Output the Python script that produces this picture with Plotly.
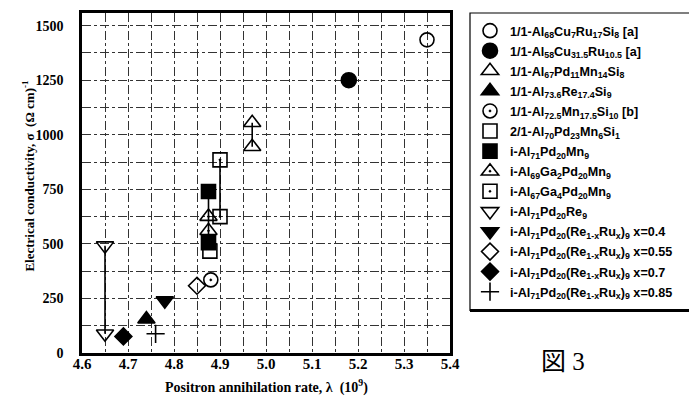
import plotly.graph_objects as go

# ---- data ----
names = [
    "1/1-Al<sub>68</sub>Cu<sub>7</sub>Ru<sub>17</sub>Si<sub>8</sub> [a]",
    "1/1-Al<sub>58</sub>Cu<sub>31.5</sub>Ru<sub>10.5</sub> [a]",
    "1/1-Al<sub>67</sub>Pd<sub>11</sub>Mn<sub>14</sub>Si<sub>8</sub>",
    "1/1-Al<sub>73.6</sub>Re<sub>17.4</sub>Si<sub>9</sub>",
    "1/1-Al<sub>72.5</sub>Mn<sub>17.5</sub>Si<sub>10</sub> [b]",
    "2/1-Al<sub>70</sub>Pd<sub>23</sub>Mn<sub>6</sub>Si<sub>1</sub>",
    "i-Al<sub>71</sub>Pd<sub>20</sub>Mn<sub>9</sub>",
    "i-Al<sub>69</sub>Ga<sub>2</sub>Pd<sub>20</sub>Mn<sub>9</sub>",
    "i-Al<sub>67</sub>Ga<sub>4</sub>Pd<sub>20</sub>Mn<sub>9</sub>",
    "i-Al<sub>71</sub>Pd<sub>20</sub>Re<sub>9</sub>",
    "i-Al<sub>71</sub>Pd<sub>20</sub>(Re<sub>1-x</sub>Ru<sub>x</sub>)<sub>9</sub> x=0.4",
    "i-Al<sub>71</sub>Pd<sub>20</sub>(Re<sub>1-x</sub>Ru<sub>x</sub>)<sub>9</sub> x=0.55",
    "i-Al<sub>71</sub>Pd<sub>20</sub>(Re<sub>1-x</sub>Ru<sub>x</sub>)<sub>9</sub> x=0.7",
    "i-Al<sub>71</sub>Pd<sub>20</sub>(Re<sub>1-x</sub>Ru<sub>x</sub>)<sub>9</sub> x=0.85",
]
x_vals = [
    [5.35], [5.18], [4.97, 4.97], [4.74], [4.88], [4.878],
    [4.875, 4.875], [4.875, 4.875], [4.90, 4.90], [4.65, 4.65],
    [4.78], [4.85], [4.69], [4.76],
]
y_vals = [
    [1435], [1250], [1055, 945], [155], [335], [467],
    [740, 505], [625, 560], [885, 625], [492, 88],
    [240], [308], [76], [88],
]
connected = [False, False, True, False, False, False,
             True, False, True, True, False, False, False, False]
symbols = ["circle-open", "circle", "triangle-up-open", "triangle-up",
           "circle-open-dot", "square-open", "square", "triangle-up-open-dot",
           "square-open-dot", "triangle-down-open", "triangle-down",
           "diamond-open", "diamond", "cross-thin-open"]
sizes = [14, 15, 15, 15, 14, 14, 14, 15, 14, 15, 15, 13, 13, 13]
# draw order (2/1 open square on top of filled squares)
draw_order = [0, 1, 2, 3, 4, 6, 7, 5, 8, 9, 10, 11, 12, 13]

x_ticks = [4.6, 4.7, 4.8, 4.9, 5.0, 5.1, 5.2, 5.3, 5.4]
y_ticks = [0, 250, 500, 750, 1000, 1250, 1500]
x_title = "Positron annihilation rate, λ  (10<sup>9</sup>)"
y_title = "Electrical conductivity, σ  (Ω cm)<sup>-1</sup>"

fig = go.Figure()

for i in range(len(names)):
    if connected[i]:
        fig.add_trace(go.Scatter(x=x_vals[i], y=y_vals[i], mode="lines",
                                 line=dict(color="black", width=1.6),
                                 showlegend=False, hoverinfo="skip"))

for i in draw_order:
    fig.add_trace(go.Scatter(
        x=x_vals[i], y=y_vals[i], mode="markers", name="<b>" + names[i] + "</b>",
        legendrank=i + 1, legendgroup=f"g{i:02d}",
        marker=dict(symbol=symbols[i], size=sizes[i], color="black",
                    line=dict(color="black", width=1.6)),
    ))

W, H = 689, 398
L, R, T, B = 82, 239, 10, 45
pw = W - L - R
ph = H - T - B


def px(xp):
    return (xp - L) / pw


def py(yp):
    return 1 - (yp - T) / ph


axis_font = dict(family="Liberation Serif", size=15, color="black")
fig.update_layout(
    width=W, height=H,
    margin=dict(l=L, r=R, t=T, b=B),
    paper_bgcolor="white", plot_bgcolor="white",
    showlegend=True,
    legend=dict(
        x=px(470), xanchor="left", y=py(13), yanchor="top",
        bgcolor="rgba(0,0,0,0)", borderwidth=0,
        font=dict(family="Liberation Sans", size=12.6, color="black"),
        itemsizing="trace", tracegroupgap=0.7,
    ),
    xaxis=dict(
        range=[4.6, 5.4], tickvals=x_ticks,
        ticktext=[f"<b>{v:.1f}</b>" for v in x_ticks],
        showline=True, linecolor="black", linewidth=2.5, mirror=True,
        showgrid=True, gridcolor="#333", griddash="dashdot", gridwidth=1,
        minor=dict(dtick=0.05, tick0=4.6, showgrid=True, gridcolor="#333",
                   griddash="dashdot", gridwidth=1),
        ticks="", ticklen=0, tickfont=axis_font, zeroline=False,
        ticklabelstandoff=-5,
    ),
    yaxis=dict(
        range=[0, 1558], tickvals=y_ticks,
        ticktext=[f"<b>{v}</b>" for v in y_ticks],
        showline=True, linecolor="black", linewidth=2.5, mirror=True,
        showgrid=True, gridcolor="#333", griddash="dashdot", gridwidth=1,
        minor=dict(dtick=125, tick0=0, showgrid=True, gridcolor="#333",
                   griddash="dashdot", gridwidth=1),
        ticks="", ticklen=0, tickfont=dict(family="Liberation Serif", size=14,
                                           color="black"),
        zeroline=False, ticklabelstandoff=13,
    ),
)

# axis titles
fig.add_annotation(text="<b>" + x_title + "</b>", xref="paper", yref="paper",
                   x=px(266), y=py(387), xanchor="center", yanchor="middle",
                   showarrow=False,
                   font=dict(family="Liberation Serif", size=14, color="black"))
fig.add_annotation(text="<b>" + y_title + "</b>", xref="paper", yref="paper",
                   x=px(28), y=py(174), xanchor="center", yanchor="middle",
                   textangle=-90, showarrow=False,
                   font=dict(family="Liberation Serif", size=13, color="black"))

# legend box
fig.add_shape(type="rect", xref="paper", yref="paper",
              x0=px(470), x1=px(700), y0=py(310), y1=1,
              line=dict(color="black", width=1.2))
fig.add_shape(type="line", xref="paper", yref="paper",
              x0=px(470), x1=px(700), y0=py(310), y1=py(310),
              line=dict(color="black", width=3))

fig.add_annotation(text="図 3", xref="paper", yref="paper",
                   x=px(563), y=py(362), xanchor="center", yanchor="middle",
                   showarrow=False,
                   font=dict(family="Liberation Serif, Noto Sans CJK JP", size=25,
                             color="black"))

fig.write_html("out.html", config={"displayModeBar": False},
               post_script="document.body.style.margin='0';")
